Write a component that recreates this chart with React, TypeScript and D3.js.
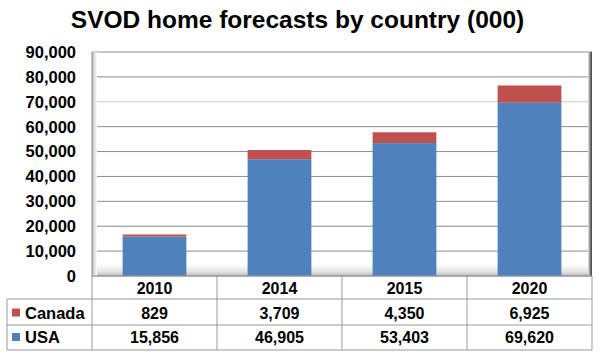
import React from "react";
import * as d3 from "d3";

const years = ["2010", "2014", "2015", "2020"];
const canada = [829, 3709, 4350, 6925];
const usa = [15856, 46905, 53403, 69620];
const yTicks = [0, 10000, 20000, 30000, 40000, 50000, 60000, 70000, 80000, 90000];
const colors = { Canada: "#C0504D", USA: "#4F81BD" };

export default function App() {
  const W = 600, H = 356;
  const left = 92, right = 592, top = 52, bottom = 276;
  const x = d3.scaleBand().domain(years).range([left, right]).paddingInner(0).paddingOuter(0);
  const y = d3.scaleLinear().domain([0, 90000]).range([bottom, top]);
  const barW = x.bandwidth() * 0.51;
  const fmt = d3.format(",");
  const font = "Arial, 'Liberation Sans', sans-serif";
  const rowTops = [276, 299, 325, 350];
  const rows = [
    { name: "Canada", vals: canada },
    { name: "USA", vals: usa },
  ];
  return (
    <svg width={W} height={H} style={{ position: "absolute", left: 0, top: 0 }} fontFamily={font}>
      <defs>
        <linearGradient id="wallL" x1="0" x2="1" y1="0" y2="0">
          <stop offset="0" stopColor="#bdbdbd" />
          <stop offset="1" stopColor="#ffffff" />
        </linearGradient>
        <linearGradient id="wallR" x1="0" x2="1" y1="0" y2="0">
          <stop offset="0" stopColor="#e8e8e8" />
          <stop offset="0.5" stopColor="#8a8a8a" />
          <stop offset="1" stopColor="#3a3a3a" />
        </linearGradient>
        <linearGradient id="floor" x1="0" x2="0" y1="0" y2="1">
          <stop offset="0" stopColor="#ffffff" />
          <stop offset="0.6" stopColor="#e6e6e6" />
          <stop offset="1" stopColor="#bdbdbd" />
        </linearGradient>
      </defs>
      <rect x={0} y={0} width={W} height={H} fill="#fff" />
      <text x={297.5} y={28} textAnchor="middle" fontSize={24.5} fontWeight="bold" fill="#000">
        SVOD home forecasts by country (000)
      </text>
      {/* floor */}
      <rect x={left} y={264} width={right - left} height={bottom - 264} fill="url(#floor)" />
      {/* gridlines */}
      {yTicks.map((t) => (
        <line key={t} x1={left} x2={right} y1={y(t)} y2={y(t)} stroke={t === 70000 ? "#c8c8c8" : "#8c8c8c"} strokeWidth={1} />
      ))}
      {/* walls */}
      <rect x={left} y={top} width={5} height={bottom - top} fill="url(#wallL)" />
      <line x1={left} x2={left} y1={top} y2={bottom} stroke="#8c8c8c" />
      <rect x={right - 4} y={top} width={4} height={bottom - top} fill="url(#wallR)" />
      {/* bars */}
      {years.map((yr, i) => {
        const cx = (x(yr) as number) + x.bandwidth() / 2;
        const u = usa[i], c = canada[i];
        return (
          <g key={yr}>
            <rect x={cx - barW / 2} y={y(u)} width={barW} height={y(0) - y(u)} fill={colors.USA} />
            <rect x={cx - barW / 2} y={y(u + c)} width={barW} height={y(u) - y(u + c)} fill={colors.Canada} />
          </g>
        );
      })}
      {/* y labels */}
      {yTicks.map((t) => (
        <text key={t} x={76} y={y(t)} dy="0.36em" textAnchor="end" fontSize={16.5} fontWeight="bold" fill="#000">
          {fmt(t)}
        </text>
      ))}
      {/* table grid */}
      {[rowTops[1], rowTops[2], rowTops[3]].map((ry) => (
        <line key={ry} x1={7} x2={right} y1={ry} y2={ry} stroke="#999" />
      ))}
      <line x1={left} x2={right} y1={bottom} y2={bottom} stroke="#999" />
      <line x1={7} x2={7} y1={rowTops[1]} y2={rowTops[3]} stroke="#999" />
      {[...years.map((yr) => x(yr) as number), right].map((lx, i) => (
        <line key={i} x1={lx} x2={lx} y1={bottom} y2={rowTops[3]} stroke="#999" />
      ))}
      {/* category row */}
      {years.map((yr) => (
        <text key={yr} x={(x(yr) as number) + x.bandwidth() / 2} y={294} textAnchor="middle" fontSize={16} fontWeight="bold">
          {yr}
        </text>
      ))}
      {rows.map((r, ri) => {
        const base = ri === 0 ? 318.5 : 343;
        return (
          <g key={r.name}>
            <rect x={12} y={base - 10} width={8} height={8} fill={colors[r.name as "Canada" | "USA"]} />
            <text x={25} y={base} fontSize={16.5} fontWeight="bold">{r.name}</text>
            {r.vals.map((v, i) => (
              <text key={i} x={(x(years[i]) as number) + x.bandwidth() / 2} y={base} textAnchor="middle" fontSize={16} fontWeight="bold">
                {fmt(v)}
              </text>
            ))}
          </g>
        );
      })}
    </svg>
  );
}
